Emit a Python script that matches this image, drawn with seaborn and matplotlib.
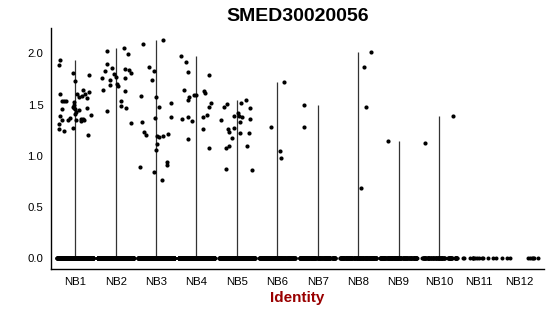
import numpy as np
import pandas as pd
import matplotlib
matplotlib.use("Agg")
import matplotlib.pyplot as plt
import seaborn as sns

# ---------------- data ----------------
groups = ["NB1", "NB2", "NB3", "NB4", "NB5", "NB6", "NB7", "NB8", "NB9", "NB10", "NB11", "NB12"]

# non-zero expression values per identity, with their horizontal jitter
nb1_vals = [1.886, 1.94, 1.81, 1.73, 1.60, 1.54, 1.54, 1.54, 1.46, 1.39, 1.35, 1.31, 1.26, 1.24,
            1.35, 1.37, 1.27, 1.48, 1.47, 1.50, 1.46, 1.53, 1.43, 1.60, 1.57, 1.45, 1.58, 1.64,
            1.60, 1.56, 1.62, 1.79, 1.47, 1.40, 1.20, 1.36, 1.36, 1.35, 1.34, 1.35, 1.41]
nb1_jit = [-0.40, -0.37, -0.05, -0.01, -0.38, -0.33, -0.27, -0.22, -0.32, -0.37, -0.34, -0.40, -0.41, -0.27,
           -0.17, -0.13, -0.05, -0.05, -0.02, -0.03, 0.00, -0.02, 0.02, 0.04, 0.10, 0.10, 0.17, 0.18,
           0.24, 0.28, 0.33, 0.33, 0.28, 0.39, 0.31, 0.14, 0.18, 0.21, 0.14, 0.02, 0.00]

nb2_vals = [2.02, 1.90, 1.83, 1.76, 1.86, 1.74, 1.80, 1.77, 1.69, 1.70, 1.68, 1.64, 2.05, 1.99,
            1.85, 1.84, 1.81, 1.76, 1.63, 1.54, 1.49, 1.47, 1.32, 1.44]
nb2_jit = [-0.22, -0.21, -0.27, -0.34, -0.08, -0.13, -0.05, 0.00, -0.15, 0.03, 0.07, -0.31, 0.21, 0.31,
           0.22, 0.33, 0.39, 0.23, 0.22, 0.12, 0.14, 0.25, 0.39, -0.21]

nb3_vals = [2.13, 2.09, 1.87, 1.83, 1.74, 1.58, 1.57, 1.48, 1.52, 1.37, 1.38, 1.33, 1.23, 1.20,
            1.19, 1.18, 1.19, 1.21, 1.12, 1.06, 0.89, 0.84, 0.76, 0.94, 0.91]
nb3_jit = [0.18, -0.32, -0.17, -0.05, -0.10, -0.38, 0.00, 0.08, 0.38, -0.02, 0.36, -0.35, -0.30, -0.26,
           0.02, 0.07, 0.16, 0.29, 0.02, 0.01, -0.40, -0.05, 0.15, 0.27, 0.27]

nb4_vals = [1.97, 1.92, 1.82, 1.79, 1.64, 1.55, 1.57, 1.59, 1.59, 1.63, 1.61, 1.48, 1.52, 1.38,
            1.40, 1.36, 1.38, 1.34, 1.26, 1.16, 1.08]
nb4_jit = [-0.39, -0.27, -0.21, 0.32, -0.32, -0.22, -0.18, -0.05, 0.00, 0.18, 0.20, 0.32, 0.36, 0.17,
           0.27, -0.37, -0.22, -0.12, 0.17, -0.20, 0.32]

nb5_vals = [1.51, 1.48, 1.52, 1.55, 1.47, 1.35, 1.39, 1.42, 1.39, 1.38, 1.33, 1.36, 1.26, 1.23,
            1.27, 1.22, 1.22, 1.17, 1.08, 1.10, 1.10, 0.87, 0.86]
nb5_jit = [-0.25, -0.31, 0.10, 0.22, 0.33, -0.40, -0.06, 0.02, 0.05, 0.12, 0.08, 0.33, -0.23, -0.20,
           -0.06, 0.07, 0.31, -0.12, -0.28, -0.20, 0.24, -0.27, 0.38]

nb6_vals = [1.28, 1.72, 1.05, 0.98]
nb6_jit = [-0.15, 0.16, 0.06, 0.09]
nb7_vals = [1.50, 1.28]
nb7_jit = [-0.33, -0.34]
nb8_vals = [2.01, 1.87, 1.48, 0.69]
nb8_jit = [0.31, 0.14, 0.19, 0.07]
nb9_vals = [1.15]
nb9_jit = [-0.25]
nb10_vals = [1.39, 1.13]
nb10_jit = [0.34, -0.35]
nb11_vals = []
nb11_jit = []
nb12_vals = []
nb12_jit = []

# number of cells with zero expression in each identity
zero_counts = [420, 420, 380, 420, 320, 160, 160, 160, 140, 80, 14, 9]

# ---------------- build tables ----------------
vals = [nb1_vals, nb2_vals, nb3_vals, nb4_vals, nb5_vals, nb6_vals,
        nb7_vals, nb8_vals, nb9_vals, nb10_vals, nb11_vals, nb12_vals]
jits = [nb1_jit, nb2_jit, nb3_jit, nb4_jit, nb5_jit, nb6_jit,
        nb7_jit, nb8_jit, nb9_jit, nb10_jit, nb11_jit, nb12_jit]

rows = []
for i, g in enumerate(groups):
    for v, j in zip(vals[i], jits[i]):
        rows.append({"Identity": g, "pos": i + j, "expr": v})
nonzero = pd.DataFrame(rows)

zero = pd.DataFrame({
    "Identity": np.repeat(groups, zero_counts),
    "expr": 0.0,
})

# ---------------- plot ----------------
sns.set_style("white")
plt.rcParams["font.family"] = ["Liberation Sans", "DejaVu Sans"]
plt.rcParams["text.color"] = "black"

fig = plt.figure(figsize=(5.5, 3.16), dpi=100)
ax = fig.add_axes([51 / 550, 1 - 269.3 / 316, (544 - 51) / 550, (269.3 - 28.3) / 316])

# violin "lines" (all-zero bulk makes the violins collapse into thin lines)
maxes = [max(v) if len(v) else 0.0 for v in vals]
line_df = pd.DataFrame({"x": np.arange(len(groups)), "top": maxes})
line_df = line_df[line_df["top"] > 0]
ax.vlines(line_df["x"], 0, line_df["top"], color="#333333", linewidth=0.9, zorder=1)

np.random.seed(3)
sns.stripplot(data=zero, x="Identity", y="expr", order=groups, jitter=0.45,
              color="black", size=2.9, linewidth=0, ax=ax, zorder=3)
sns.scatterplot(data=nonzero, x="pos", y="expr", color="black", s=9,
                linewidth=0, ax=ax, zorder=3)

ax.set_xlim(-0.6, 11.6)
ax.set_ylim(-0.107, 2.245)
ax.set_xticks(range(len(groups)))
ax.set_xticklabels(groups)
ax.set_yticks([0, 0.5, 1.0, 1.5, 2.0])
ax.set_yticklabels(["0.0", "0.5", "1.0", "1.5", "2.0"])

for side in ["top", "right"]:
    ax.spines[side].set_visible(False)
for side in ["left", "bottom"]:
    ax.spines[side].set_color("black")
    ax.spines[side].set_linewidth(1.0)

ax.tick_params(axis="both", which="major", length=3, width=0.8, color="#333333",
               labelsize=8.2, labelcolor="black", pad=2.5)
ax.set_ylabel("")
ax.set_xlabel("Identity", fontsize=11, fontweight="bold", color="#990000", labelpad=3)
ax.set_title("SMED30020056", fontsize=14, fontweight="bold", color="black", pad=5)

fig.savefig("out.png", dpi=100)
